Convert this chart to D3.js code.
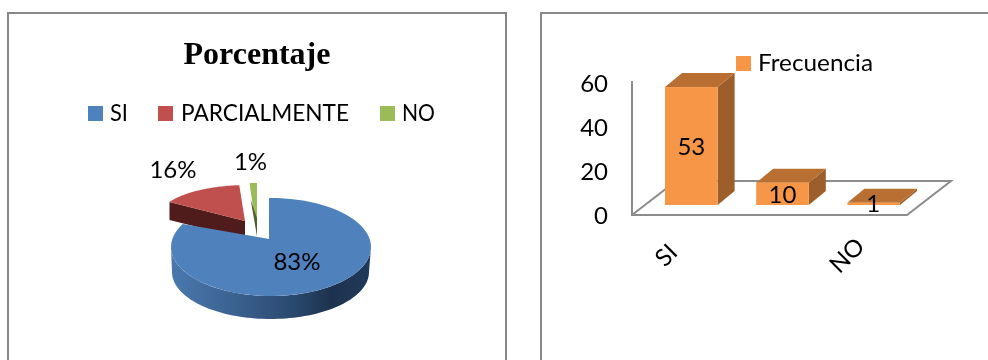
<!DOCTYPE html>
<html><head><meta charset="utf-8">
<script src="https://cdn.jsdelivr.net/npm/d3@7"></script>
<style>html,body{margin:0;padding:0;background:#fff}svg{display:block;filter:blur(0.4px)}text{font-family:Lato,"Open Sans",sans-serif;fill:#000}</style>
</head><body><svg width="988" height="360"></svg>
<script>
const categories = ["SI", "PARCIALMENTE", "NO"];
const frequencies = [53, 10, 1];
const percentLabels = ["83%", "16%", "1%"];
const pieColors = ["#4f81bd", "#c0504d", "#9bbb59"];
const barLegend = "Frecuencia";
const pieTitle = "Porcentaje";
const yTicks = [0, 20, 40, 60];
const xTickLabels = ["SI", "NO"];

const svg = d3.select("svg");
const FS = 24;
const frame = "#878787";

function drawFrame(x0, x1) {
  svg.append("path").attr("d", `M${x0},360V13H${x1}${x1<980?"V360":""}`)
    .attr("fill", "none").attr("stroke", frame).attr("stroke-width", 2);
}
drawFrame(8, 506);
drawFrame(541, 988);

/* ---------- left: 3D pie ---------- */
svg.append("text").text(pieTitle).attr("x", 257).attr("y", 64).attr("text-anchor", "middle")
  .style("font-family", "'Liberation Serif',serif").style("font-weight", 700).style("font-size", "32px");

const legendX = d3.scaleOrdinal().domain(categories).range([88, 158, 380]);
const legendFit = [18, 168, 33];
categories.forEach((c, i) => {
  svg.append("rect").attr("x", legendX(c)).attr("y", 106).attr("width", 15).attr("height", 15).attr("fill", pieColors[i]);
  svg.append("text").text(c).attr("x", legendX(c) + (i === 1 ? 23 : 22)).attr("y", 121).style("font-size", FS + "px")
    .attr("textLength", legendFit[i]).attr("lengthAdjust", "spacingAndGlyphs");
});

const defs = svg.append("defs");
const grad = defs.append("linearGradient").attr("id", "blueSide");
[[0, "#4a78ae"], [0.3, "#3c6392"], [0.6, "#2b4a70"], [0.8, "#1d324f"], [1, "#21395a"]].forEach(s =>
  grad.append("stop").attr("offset", s[0]).attr("stop-color", s[1]));

const slices = d3.pie().sort(null).value(d => d)(frequencies);
const geom = [
  {cx: 271, cy: 247, rx: 100, ry: 49, ax: 269, ay: 239, side: null, depth: 23},
  {cx: 248, cy: 217, rx: 89, ry: 32, ax: 245, ay: 221, side: "#4f1c1b", depth: 18},
  {cx: 257, cy: 215, rx: 76, ry: 32, ax: 257, ay: 236, side: "#4e6128", depth: 18}
];
const rim = (g, a) => [g.cx + g.rx * Math.sin(a), g.cy - g.ry * Math.cos(a)];
function rimPoints(g, a0, a1) {
  return d3.range(0, 1.0001, 1 / 80).map(t => rim(g, a0 + (a1 - a0) * t));
}
const line = d3.line();
function drawSlice(i) {
  const s = slices[i], g = geom[i];
  const pts = rimPoints(g, s.startAngle, s.endAngle);
  if (g.side) {
    const p = pts[0];
    svg.append("path").attr("d", line([p, [g.ax, g.ay], [g.ax, g.ay + g.depth], [p[0], p[1] + g.depth]]) + "Z").attr("fill", g.side);
  }
  const edge = i === 0 ? [[g.ax, pts[0][1]], ...pts] : pts;
  svg.append("path").attr("d", line([[g.ax, g.ay], ...edge]) + "Z").attr("fill", pieColors[i]);
}
(function () {
  const s = slices[2], g = geom[2], pts = rimPoints(g, s.startAngle, s.endAngle);
  svg.append("path").attr("d", line([[g.ax, g.ay], ...pts]) + "Z").attr("fill", pieColors[2]);
  const p = pts[0];
  svg.append("path").attr("d", line([[p[0] + 1, p[1] + 16], [g.ax, g.ay], [g.ax, g.ay - 18]]) + "Z").attr("fill", g.side);
})();
drawSlice(1);
(function () {
  const g = geom[0];
  const topEdge = rimPoints(g, Math.PI / 2, 3 * Math.PI / 2);
  const g2 = {cx: 270.5, cy: 272, rx: 98.5, ry: 47};
  const botEdge = rimPoints(g2, 3 * Math.PI / 2, Math.PI / 2);
  svg.append("path").attr("d", line([...topEdge, ...botEdge]) + "Z").attr("fill", "url(#blueSide)");
  drawSlice(0);
})();

const pieLabelPos = [[297, 270], [173, 178], [250.5, 170]];
percentLabels.forEach((t, i) => svg.append("text").text(t).attr("x", pieLabelPos[i][0]).attr("y", pieLabelPos[i][1])
  .attr("text-anchor", "middle").style("font-size", FS + "px"));

/* ---------- right: 3D bars ---------- */
const x = d3.scaleBand().domain(categories).range([665, 900]).paddingInner(0.423).paddingOuter(0);
const barY = d3.scaleLinear().domain([0, 60]).range([205, 71.5]);
const wallY = d3.scaleLinear().domain([0, 60]).range([215, 83]);
const dx = 17, dy = -14;

const axisG = svg.append("g").attr("transform", "translate(608,0)")
  .call(d3.axisLeft(wallY).tickValues(yTicks).tickSize(0).tickPadding(0));
axisG.select(".domain").remove();
axisG.selectAll("text").style("font-size", FS + "px").style("font-family", "Lato,sans-serif").attr("fill", "#000").attr("dy", "0.34em");

const wallColor = "#8c8c8c";
svg.append("path").attr("d", line([[632, wallY(60) - 2], [632, wallY(0)], [907, wallY(0)], [951, wallY(0) - 34], [676, wallY(0) - 34], [632, wallY(0)]]))
  .attr("fill", "none").attr("stroke", wallColor).attr("stroke-width", 2);

const bars = svg.selectAll("g.bar").data(frequencies).enter().append("g").attr("class", "bar");
bars.append("path").attr("fill", "#9c5f2b").attr("d", (d, i) => {
  const r = x(categories[i]) + x.bandwidth(), y0 = barY(0), y1 = barY(d);
  return line([[r, y0], [r + dx, y0 + dy], [r + dx, y1 + dy], [r, y1]]) + "Z";
});
bars.append("path").attr("fill", "#b96f32").attr("d", (d, i) => {
  const l = x(categories[i]), r = l + x.bandwidth(), y1 = barY(d);
  return line([[l, y1], [l + dx, y1 + dy], [r + dx, y1 + dy], [r, y1]]) + "Z";
});
bars.append("rect").attr("fill", "#f79646")
  .attr("x", (d, i) => x(categories[i])).attr("width", x.bandwidth())
  .attr("y", d => barY(d)).attr("height", d => Math.max(1.5, barY(0) - barY(d)));

const labelY = [155, 203, 212];
frequencies.forEach((d, i) => svg.append("text").text(d)
  .attr("x", x(categories[i]) + x.bandwidth() / 2 + (i === 2 ? -0.5 : 0)).attr("y", labelY[i])
  .attr("text-anchor", "middle").style("font-size", FS + "px"));

const xLabelPos = {SI: [679, 254], NO: [866, 248]};
xTickLabels.forEach(t => svg.append("text").text(t).attr("text-anchor", "end")
  .attr("transform", `translate(${xLabelPos[t][0]},${xLabelPos[t][1]}) rotate(-45)`).style("font-size", FS + "px"));

svg.append("rect").attr("x", 736).attr("y", 56).attr("width", 15).attr("height", 15).attr("fill", "#f79646");
svg.append("text").text(barLegend).attr("x", 758).attr("y", 71).style("font-size", FS + "px")
  .attr("textLength", 115).attr("lengthAdjust", "spacingAndGlyphs");
</script></body></html>
